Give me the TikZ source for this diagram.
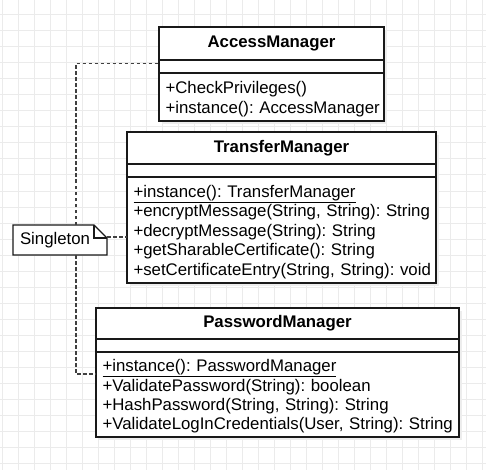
\documentclass[tikz,border=0pt]{standalone}
\usepackage{fontspec}
\setmainfont{Liberation Sans}
\usetikzlibrary{positioning,shadows}
\frenchspacing
\newcommand\umlfont{\fontsize{16.8}{19.4}\selectfont}
\tikzset{
  gridline/.style={draw=black!8, line width=1pt},
  umlbox/.style={draw=black!90, fill=white, line width=1.3pt, outer sep=0pt,
    drop shadow={shadow xshift=3pt, shadow yshift=-3pt, fill=black!7, opacity=1}},
  umlhead/.style={umlbox, font=\umlfont\bfseries, inner sep=0pt, anchor=north west},
  umlattr/.style={umlbox, inner sep=0pt, minimum height=13pt},
  umlops/.style={umlbox, font=\umlfont, align=left, inner xsep=6.5pt, inner ysep=0pt},
  umlnote/.style={fill=white, font=\umlfont, align=left, inner xsep=7pt, inner ysep=0pt,
    minimum width=94pt, minimum height=30pt, text width=80pt, outer sep=0pt},
  notefold/.style={draw=black!90, line width=1.3pt, line join=miter},
  dep/.style={draw=black!75, line width=1.3pt, dash pattern=on 3.5pt off 2.5pt}
}
\begin{document}
\begin{tikzpicture}[x=1pt, y=-1pt]
  \useasboundingbox (0,0) rectangle (486,470);
  % background grid
  \foreach \gx in {2,18,...,482}
    \draw[gridline] (\gx,0) -- (\gx,470);
  \foreach \gy in {15,31,...,463}
    \draw[gridline] (0,\gy) -- (486,\gy);

  % AccessManager
  \node[umlhead, minimum width=225pt, minimum height=33pt] (am) at (159,27) {AccessManager};
  \node[umlattr, minimum width=225pt, below=0pt of am] (am-attr) {};
  \node[umlops, minimum width=225pt, text width=212pt, minimum height=48pt, below=0pt of am-attr] (am-ops)
    {\begin{tabular}{@{}l@{}}\noalign{\vskip5pt}
     +CheckPrivileges()\\
     +instance(): AccessManager
     \end{tabular}};

  % TransferManager
  \node[umlhead, minimum width=309pt, minimum height=32pt] (tm) at (127,132) {TransferManager};
  \node[umlattr, minimum width=309pt, below=0pt of tm] (tm-attr) {};
  \node[umlops, minimum width=309pt, text width=296pt, minimum height=106pt, below=0pt of tm-attr] (tm-ops)
    {\begin{tabular}{@{}l@{}}\noalign{\vskip5pt}
     \underline{+instance(): TransferManager}\\
     +encryptMessage(String, String): String\\
     +decryptMessage(String): String\\
     +getSharableCertificate(): String\\
     +setCertificateEntry(String, String): void
     \end{tabular}};

  % PasswordManager
  \node[umlhead, minimum width=363pt, minimum height=31pt] (pm) at (96,308) {PasswordManager};
  \node[umlattr, minimum width=363pt, below=0pt of pm] (pm-attr) {};
  \node[umlops, minimum width=363pt, text width=350pt, minimum height=85pt, below=0pt of pm-attr] (pm-ops)
    {\begin{tabular}{@{}l@{}}\noalign{\vskip5pt}
     \underline{+instance(): PasswordManager}\\
     +ValidatePassword(String): boolean\\
     +HashPassword(String, String): String\\
     +ValidateLogInCredentials(User, String): String
     \end{tabular}};

  % note
  \node[umlnote] (note) at (60,240) {Singleton};
  \draw[notefold] (note.north west) -- ([xshift=-13pt]note.north east)
    -- ([yshift=-13pt]note.north east) -- (note.south east) -- (note.south west) -- cycle;
  \draw[notefold] ([xshift=-13pt]note.north east) |- ([yshift=-13pt]note.north east);

  \begin{scope}[dep]
    \draw ([xshift=16pt]note.north) |- ([yshift=3pt]am-attr.west);
    \draw ([yshift=3pt]note.east) -- ([yshift=3pt]note.east -| tm-ops.west);
    \draw ([xshift=16pt]note.south) |- ([yshift=-22pt]pm-ops.north west);
  \end{scope}
\end{tikzpicture}
\end{document}
